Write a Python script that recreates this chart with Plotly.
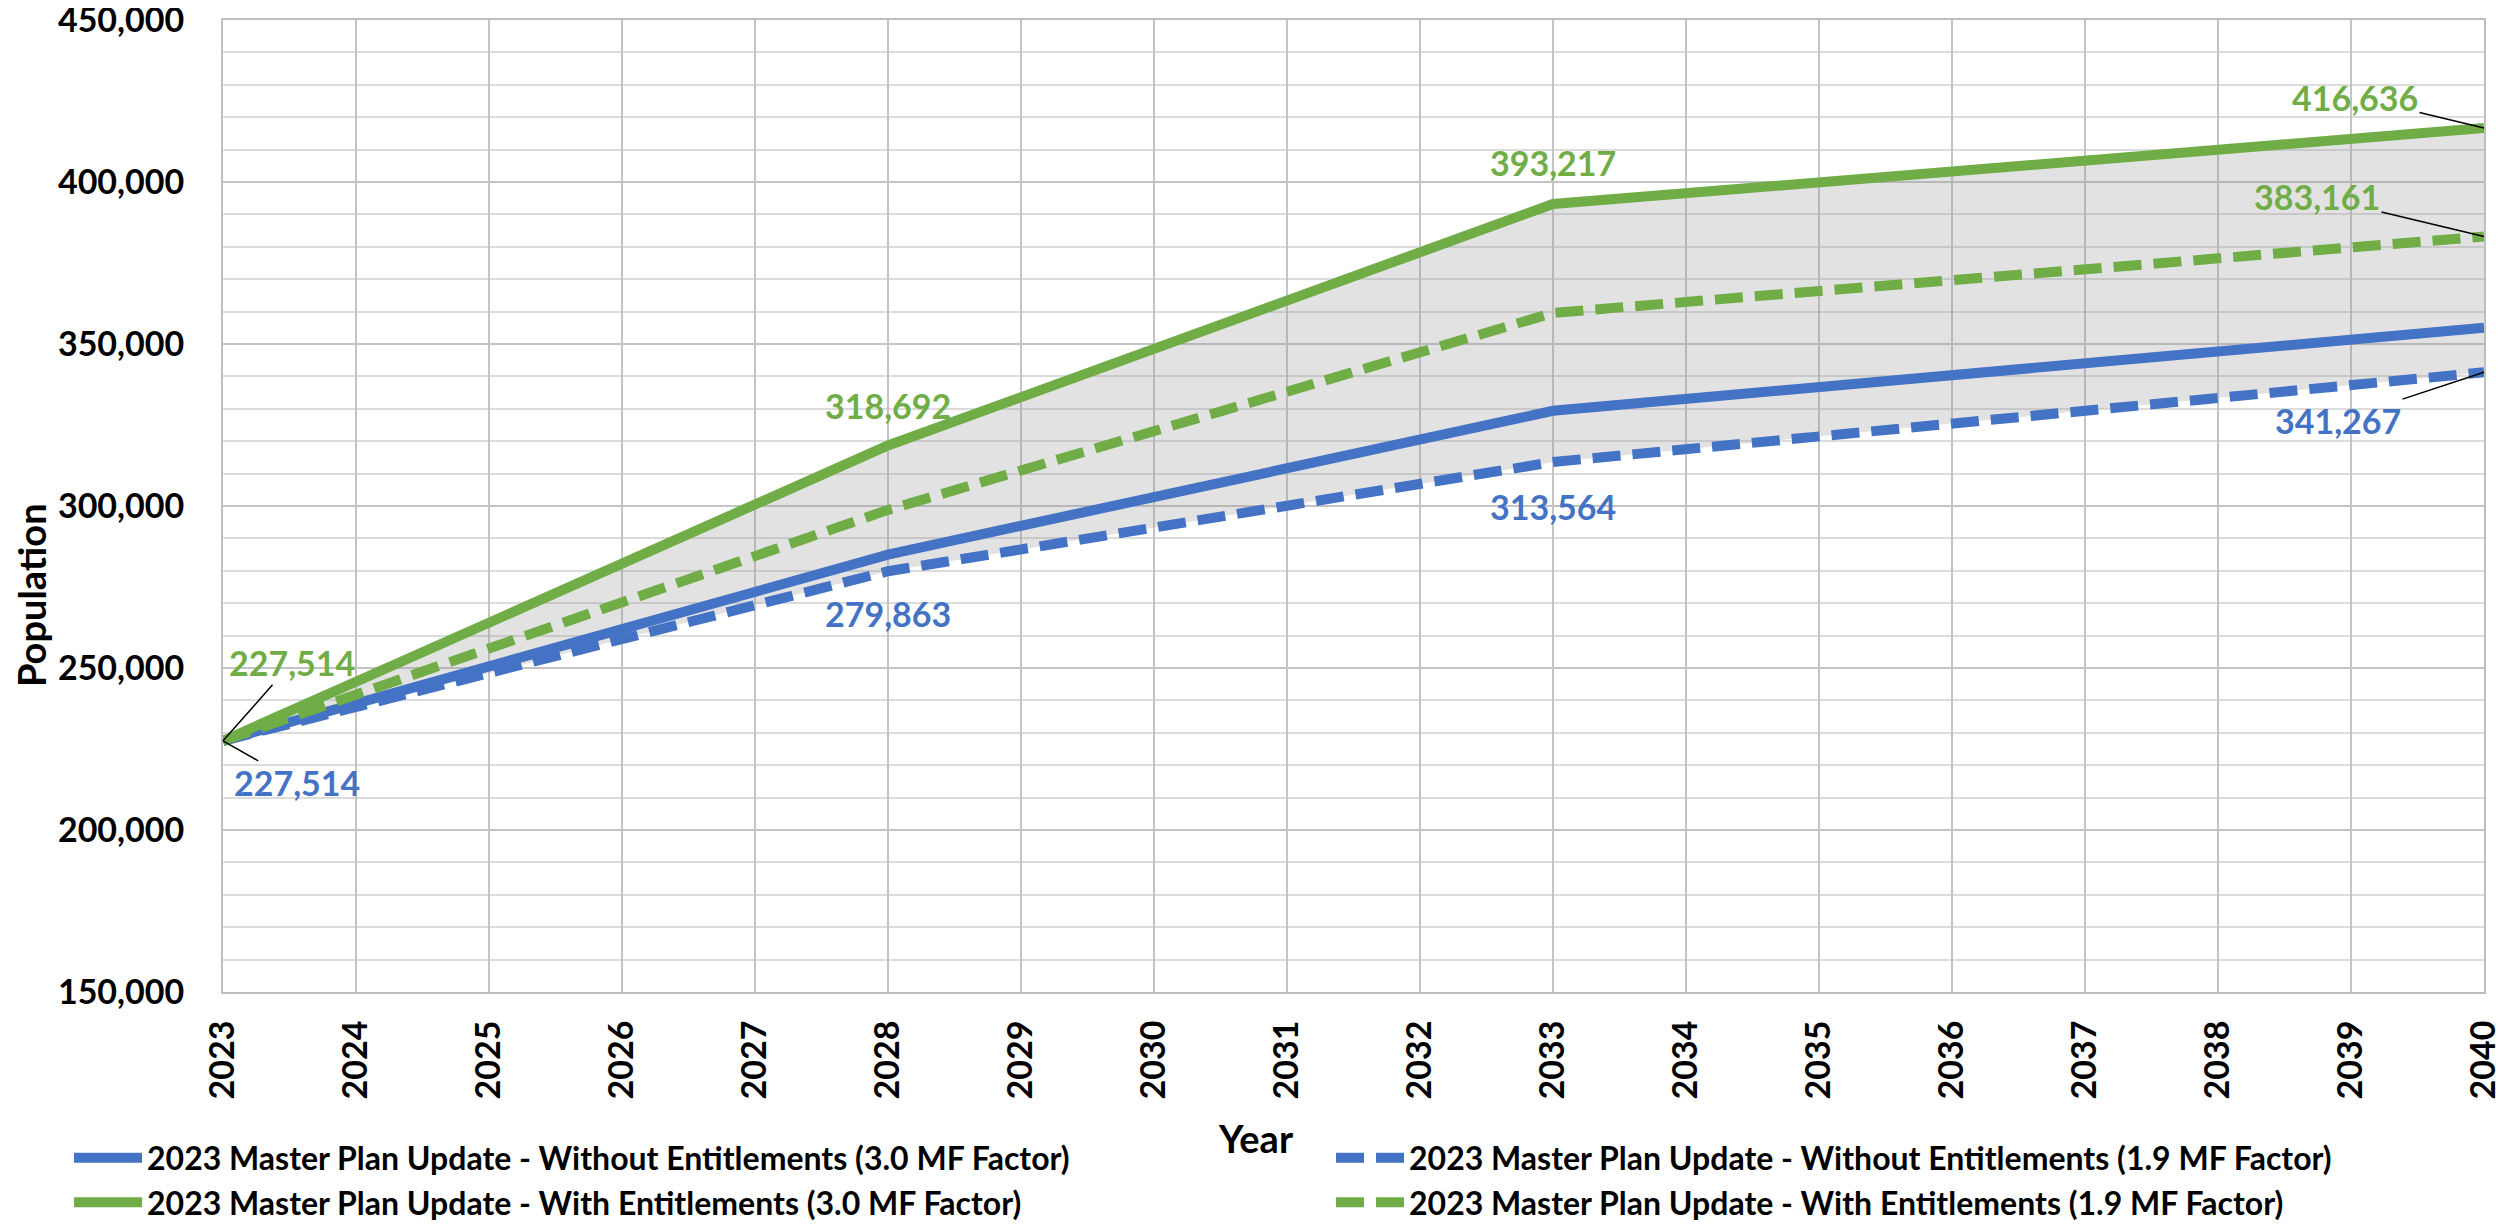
import plotly.graph_objects as go

# ---- data ----
years = [2023, 2028, 2033, 2040]
without_30 = [227514, 285000, 329400, 355000]   # 2023 MP Update - Without Entitlements (3.0 MF)
without_19 = [227514, 279863, 313564, 341267]   # 2023 MP Update - Without Entitlements (1.9 MF)
with_30 = [227514, 318692, 393217, 416636]      # 2023 MP Update - With Entitlements (3.0 MF)
with_19 = [227514, 298800, 359600, 383161]      # 2023 MP Update - With Entitlements (1.9 MF)

names = [
    "2023 Master Plan Update - Without Entitlements (3.0 MF Factor)",
    "2023 Master Plan Update - Without Entitlements (1.9 MF Factor)",
    "2023 Master Plan Update - With Entitlements (3.0 MF Factor)",
    "2023 Master Plan Update - With Entitlements (1.9 MF Factor)",
]
x_ticks = list(range(2023, 2041))
y_ticks = [150000, 200000, 250000, 300000, 350000, 400000, 450000]

BLUE = "#4472C4"
GREEN = "#70AD47"
FONT = "Lato"
FS = 34
LFS = 32
TFS = 38

fig = go.Figure()

# shaded band between lowest and highest scenario
fig.add_trace(go.Scatter(x=years, y=without_19, mode="lines", line=dict(width=0),
                         showlegend=False, hoverinfo="skip"))
fig.add_trace(go.Scatter(x=years, y=with_30, mode="lines", line=dict(width=0),
                         fill="tonexty", fillcolor="rgba(150,150,150,0.28)",
                         showlegend=False, hoverinfo="skip"))

fig.add_trace(go.Scatter(x=years, y=without_30, mode="lines", name=names[0], legend="legend",
                         line=dict(color=BLUE, width=10)))
fig.add_trace(go.Scatter(x=years, y=without_19, mode="lines", name=names[1], legend="legend2",
                         line=dict(color=BLUE, width=10, dash="28px,12px")))
fig.add_trace(go.Scatter(x=years, y=with_30, mode="lines", name=names[2], legend="legend",
                         line=dict(color=GREEN, width=10)))
fig.add_trace(go.Scatter(x=years, y=with_19, mode="lines", name=names[3], legend="legend2",
                         line=dict(color=GREEN, width=10, dash="28px,12px")))

lab_font = dict(family=FONT, size=FS, weight="bold")

def lab(x, y, color, ax=None, ay=None, yshift=0):
    d = dict(x=x, y=y, xref="x", yref="y", text=f"{y:,}",
             font=dict(color=color, **lab_font))
    if ax is None:
        d.update(showarrow=False, yshift=yshift)
    else:
        d.update(showarrow=True, ax=ax, ay=ay, arrowhead=0, arrowwidth=1.5,
                 arrowcolor="black", standoff=0)
    return d

annotations = [
    lab(years[0], with_30[0], GREEN, ax=69, ay=-78),
    lab(years[0], without_19[0], BLUE, ax=74, ay=42),
    lab(years[1], with_30[1], GREEN, yshift=40),
    lab(years[1], without_19[1], BLUE, yshift=-42),
    lab(years[2], with_30[2], GREEN, yshift=41),
    lab(years[2], without_19[2], BLUE, yshift=-44),
    lab(years[3], with_30[3], GREEN, ax=-129, ay=-31),
    lab(years[3], with_19[3], GREEN, ax=-167, ay=-40),
    lab(years[3], without_19[3], BLUE, ax=-146, ay=48),
    dict(text="Population", xref="paper", yref="paper", x=-0.0849, y=0.4084,
         xanchor="center", yanchor="middle",
         showarrow=False, textangle=-90, font=dict(family=FONT, size=TFS, weight="bold", color="black")),
    dict(text="Year", xref="paper", yref="paper", x=0.4569, y=-0.1502,
         xanchor="center", yanchor="middle",
         showarrow=False, font=dict(family=FONT, size=TFS, weight="bold", color="black")),
]

leg_common = dict(orientation="v", xref="container", yref="container",
                  xanchor="left", yanchor="top", traceorder="normal",
                  font=dict(family=FONT, size=LFS, weight="bold", color="black"),
                  itemwidth=68, tracegroupgap=0, bgcolor="rgba(0,0,0,0)")

# the page body adds an 8px offset, so the figure is 8px smaller on each axis
fig.update_layout(
    width=2501, height=1216,
    margin=dict(l=215, r=25, t=12, b=232, autoexpand=False),
    paper_bgcolor="white", plot_bgcolor="white",
    font=dict(family=FONT, size=FS, color="black", weight="bold"),
    annotations=annotations,
    legend=dict(x=0.0244, y=0.077, **leg_common),
    legend2=dict(x=0.529, y=0.077, **leg_common),
    xaxis=dict(range=[2023, 2040], tickvals=x_ticks, ticktext=[str(v) for v in x_ticks],
               tickangle=-90, showgrid=True, gridcolor="#C4C4C4", gridwidth=2,
               showline=True, linecolor="#BFBFBF", linewidth=2, mirror=True,
               zeroline=False, ticks="", ticklabelstandoff=13, automargin=False,
               tickfont=dict(family=FONT, size=FS, weight="bold", color="black")),
    yaxis=dict(range=[150000, 450000.5], tickvals=y_ticks, tickformat=",",
               showgrid=True, gridcolor="#C4C4C4", gridwidth=2,
               minor=dict(dtick=10000, showgrid=True, gridcolor="#DCDCDC", gridwidth=1.5),
               showline=True, linecolor="#BFBFBF", linewidth=2, mirror=True,
               zeroline=False, ticks="", ticklabelstandoff=30, ticklabeloverflow="allow",
               automargin=False,
               tickfont=dict(family=FONT, size=FS, weight="bold", color="black")),
)

fig.write_html("out.html")
